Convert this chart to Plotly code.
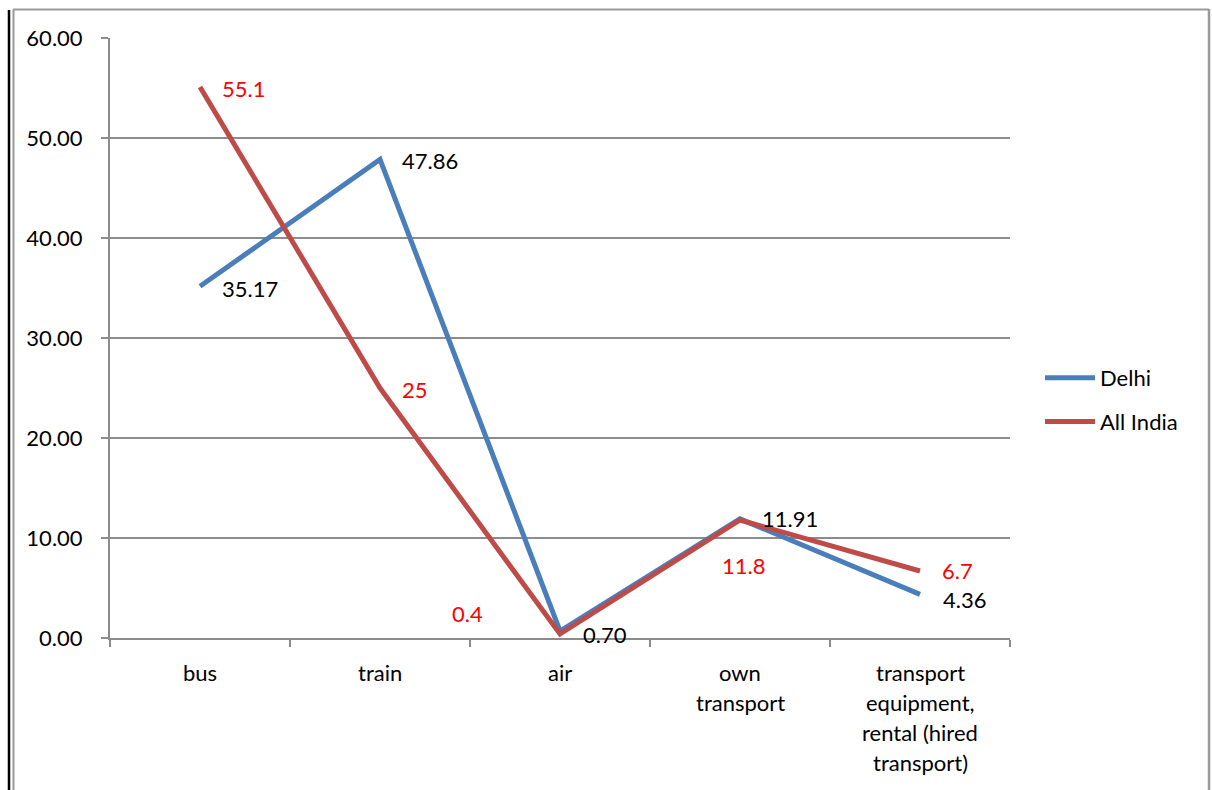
import plotly.graph_objects as go

categories = ["bus", "train", "air", "own transport",
              "transport equipment, rental (hired transport)"]
tick_lines = [["bus"], ["train"], ["air"], ["own", "transport"],
              ["transport", "equipment,", "rental (hired", "transport)"]]
delhi = [35.17, 47.86, 0.70, 11.91, 4.36]
all_india = [55.1, 25, 0.4, 11.8, 6.7]
delhi_labels = ["35.17", "47.86", "0.70", "11.91", "4.36"]
india_labels = ["55.1", "25", "0.4", "11.8", "6.7"]
y_ticks = [0, 10, 20, 30, 40, 50, 60]

BLUE = "#4A7EBB"
RED = "#BE4B48"
GRID = "#8C8C8C"
FONT = "Lato"
FS = 22

fig = go.Figure()
fig.add_trace(go.Scatter(x=categories, y=delhi, mode="lines", name="Delhi",
                         legendgroup="delhi",
                         line=dict(color=BLUE, width=5)))
fig.add_trace(go.Scatter(x=categories, y=all_india, mode="lines", name="All India",
                         legendgroup="india",
                         line=dict(color=RED, width=5)))

annotations = []
# data labels: (xanchor, xshift, yshift) per point
delhi_pos = [("left", 21, -2), ("left", 21, -1), ("left", 22, -3),
             ("left", 21, 0), ("left", 22, -5)]
india_pos = [("left", 21, -1), ("left", 21, -1), ("right", -76, 21),
             ("center", 3, -45), ("left", 21, 1)]
for c, v, t, (xa, xs, ys) in zip(categories, delhi, delhi_labels, delhi_pos):
    annotations.append(dict(x=c, y=v, text=t, showarrow=False, xanchor=xa,
                            yanchor="middle", xshift=xs, yshift=ys, borderpad=0,
                            font=dict(family=FONT, size=FS, color="black")))
for c, v, t, (xa, xs, ys) in zip(categories, all_india, india_labels, india_pos):
    annotations.append(dict(x=c, y=v, text=t, showarrow=False, xanchor=xa,
                            yanchor="middle", xshift=xs, yshift=ys, borderpad=0,
                            font=dict(family=FONT, size=FS, color="#FF0000")))

# category labels, one line at a time
for c, lines in zip(categories, tick_lines):
    for i, ln in enumerate(lines):
        annotations.append(dict(x=c, y=0, yref="y", text=ln, showarrow=False,
                                xanchor="center", yanchor="middle",
                                yshift=-34 - 30 * i, borderpad=0,
                                font=dict(family=FONT, size=FS, color="black")))

# outer frame around the chart area
W, H = 900.0, 600.0
L, T = 110.0, 38.0


def px_x(p):
    return (p - L) / W


def px_y(p):
    return (T + H - p) / H


shapes = [
    dict(type="line", xref="paper", yref="paper", x0=px_x(9), x1=px_x(9),
         y0=px_y(10), y1=px_y(792), line=dict(color="black", width=2.5)),
    dict(type="line", xref="paper", yref="paper", x0=px_x(13.5), x1=px_x(13.5),
         y0=px_y(9.5), y1=px_y(792), line=dict(color="#9A9A9A", width=2)),
    dict(type="line", xref="paper", yref="paper", x0=px_x(13), x1=px_x(1209),
         y0=px_y(9.5), y1=px_y(9.5), line=dict(color="#9A9A9A", width=2)),
    dict(type="line", xref="paper", yref="paper", x0=px_x(1209), x1=px_x(1209),
         y0=px_y(9), y1=px_y(792), line=dict(color="#9A9A9A", width=2.5)),
]

fig.update_layout(
    width=1212, height=790,
    margin=dict(l=110, r=202, t=38, b=152),
    paper_bgcolor="white", plot_bgcolor="white",
    font=dict(family=FONT, size=FS, color="black"),
    showlegend=True,
    legend=dict(x=px_x(1040), y=px_y(357), xanchor="left", yanchor="top",
                font=dict(family=FONT, size=FS, color="black"),
                itemwidth=50, tracegroupgap=12, bgcolor="rgba(0,0,0,0)"),
    annotations=annotations,
    shapes=shapes,
    xaxis=dict(type="category", showgrid=False, showline=True,
               linecolor=GRID, linewidth=2, ticks="outside",
               tickson="boundaries", ticklen=7, tickcolor=GRID, tickwidth=2,
               showticklabels=False, range=[-0.5, 4.5], zeroline=False),
    yaxis=dict(range=[0, 60], tickvals=y_ticks, tickformat=".2f",
               showgrid=True, gridcolor=GRID, gridwidth=1.5,
               showline=True, linecolor=GRID, linewidth=2,
               ticks="outside", ticklen=7, tickcolor=GRID, tickwidth=2,
               ticklabelstandoff=14, zeroline=False,
               tickfont=dict(family=FONT, size=FS, color="black")),
)

fig.write_html("out.html")
